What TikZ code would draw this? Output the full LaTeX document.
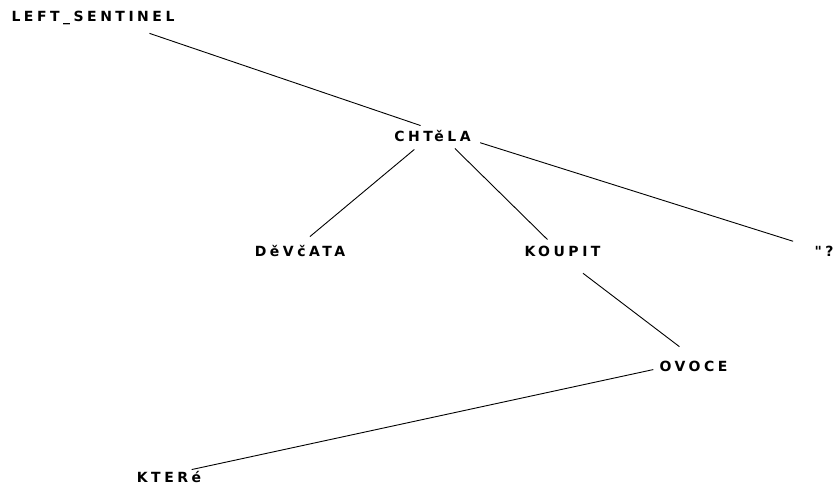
\documentclass[tikz,border=0pt]{standalone}
\usepackage{fontspec}
\newfontfamily\treefont[LetterSpace=25]{DejaVu Sans Bold}
\usetikzlibrary{positioning}

\begin{document}
\begin{tikzpicture}[x=1pt, y=-1pt, line width=0.9pt,
  word/.style={inner sep=0pt, text height=9pt, text depth=0pt, font=\treefont\fontsize{14pt}{16pt}\selectfont}]
\useasboundingbox (0,0) rectangle (835,485);
\node (sent) [word] at (93,16.5) {LEFT\_SENTINEL};
\node (chtela) [word] at (432.5,136.5) {CHTěLA};
\node (devcata) [word] at (300,251.5) {DěVčATA};
\node (koupit) [word] at (562.5,251.5) {KOUPIT};
\node (quest) [word] at (824,251.5) {"?};
\node (ovoce) [word] at (693.5,366.5) {OVOCE};
\node (ktere) [word] at (169,478) {KTERé};
\draw[shorten <=37pt, shorten >=18.6pt] (sent.-13.5) -- (chtela.41.4);
\draw[shorten <=12.5pt, shorten >=15.5pt] (chtela.-150.6) -- (devcata.112.9);
\draw[shorten <=10pt, shorten >=10pt] (chtela.-18.7) -- (koupit.148.4);
\draw[shorten <=9.4pt, shorten >=22pt] (chtela.-5.6) -- (quest.160.5);
\draw[shorten <=27.8pt, shorten >=24.6pt] (koupit.-108.4) -- (ovoce.42);
\draw[shorten <=6pt, shorten >=16.5pt] (ovoce.-177.8) -- (ktere.37.3);
\end{tikzpicture}
\end{document}
